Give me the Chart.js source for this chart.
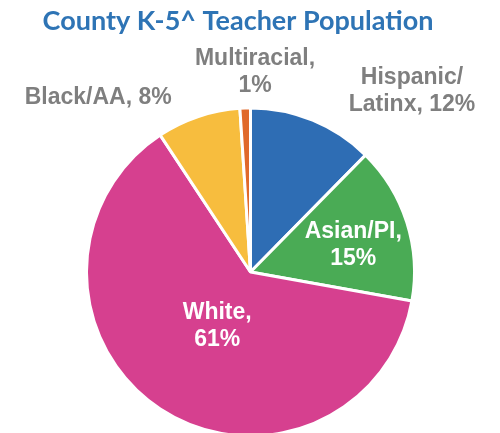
<!DOCTYPE html>
<html>
<head>
<meta charset="utf-8">
<script src="https://cdn.jsdelivr.net/npm/chart.js@4/dist/chart.umd.min.js"></script>
<style>
html,body{margin:0;padding:0;background:#fff;}
#wrap{width:500px;height:433px;position:relative;}
</style>
</head>
<body>
<div id="wrap"><canvas id="c" width="500" height="433"></canvas></div>
<script>
const chartTitle = 'County K-5^ Teacher Population';
const categories = ['Hispanic/Latinx', 'Asian/PI', 'White', 'Black/AA', 'Multiracial'];
const values = [12, 15, 61, 8, 1];
const labelLines = [['Hispanic/', 'Latinx, 12%'], ['Asian/PI,', '15%'], ['White,', '61%'], ['Black/AA, 8%'], ['Multiracial,', '1%']];
const colors = ['#2E6DB4', '#4AAB55', '#D6408F', '#F7BD3E', '#E0692B'];

// label placement in polar terms relative to pie center: angle (deg from top, clockwise), radius factor
const labelPlace = [
  {a: 41.7, r: 1.48, color: '#7F7F7F'},
  {a: 75.6, r: 0.647, color: '#FFFFFF'},
  {a: 211.4, r: 0.39, color: '#FFFFFF'},
  {a: 318.8, r: 1.41, color: '#7F7F7F'},
  {a: 1.3, r: 1.216, color: '#7F7F7F'}
];

const titlePlugin = {
  id: 'offsetTitle',
  afterDraw(chart) {
    const ctx = chart.ctx;
    ctx.save();
    ctx.font = 'bold 27px Lato, "Open Sans", sans-serif';
    ctx.fillStyle = '#2E74B5';
    ctx.textAlign = 'center';
    ctx.textBaseline = 'middle';
    ctx.fillText(chartTitle, chart.width / 2 - 12, 21);
    ctx.restore();
  }
};

const labelPlugin = {
  id: 'sliceLabels',
  afterDatasetsDraw(chart) {
    const ctx = chart.ctx;
    const meta = chart.getDatasetMeta(0);
    ctx.save();
    ctx.font = 'bold 23px "Liberation Sans", Arial, sans-serif';
    ctx.textAlign = 'center';
    ctx.textBaseline = 'middle';
    meta.data.forEach((arc, i) => {
      const p = labelPlace[i];
      const R = arc.outerRadius;
      const ang = (p.a - 90) * Math.PI / 180;
      const cx = arc.x + Math.cos(ang) * R * p.r;
      const cy = arc.y + Math.sin(ang) * R * p.r;
      const lines = labelLines[i];
      const lh = 27;
      ctx.fillStyle = p.color;
      lines.forEach((t, k) => {
        ctx.fillText(t, cx, cy + (k - (lines.length - 1) / 2) * lh);
      });
    });
    ctx.restore();
  }
};

new Chart(document.getElementById('c'), {
  type: 'pie',
  data: {
    labels: categories,
    datasets: [{
      data: values,
      backgroundColor: colors,
      borderColor: '#FFFFFF',
      borderWidth: 3
    }]
  },
  options: {
    responsive: false,
    animation: false,
    radius: 164,
    layout: {padding: {top: 111, bottom: 0, left: 1, right: 0}},
    plugins: {
      legend: {display: false},
      tooltip: {enabled: false},
      title: {display: false}
    }
  },
  plugins: [labelPlugin, titlePlugin]
});
</script>
</body>
</html>
